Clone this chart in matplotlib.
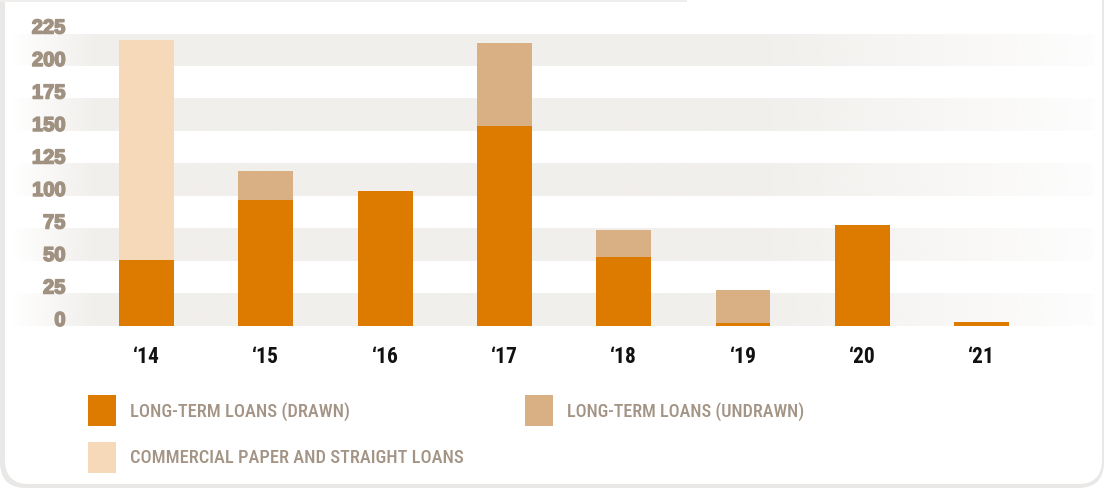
import numpy as np
import matplotlib
matplotlib.use('Agg')
import matplotlib.pyplot as plt
from matplotlib import font_manager, patheffects
from matplotlib.patches import FancyBboxPatch, Rectangle
from matplotlib.transforms import IdentityTransform

# data
years = ['\u201814', '\u201815', '\u201816', '\u201817', '\u201818', '\u201819', '\u201820', '\u201821']
drawn = [51, 97, 104, 154, 53, 2, 78, 3]
undrawn = [0, 22, 0, 64, 21, 26, 0, 0]
cpaper = [169, 0, 0, 0, 0, 0, 0, 0]
yticks = [0, 25, 50, 75, 100, 125, 150, 175, 200, 225]
labels = ['LONG-TERM LOANS (DRAWN)', 'LONG-TERM LOANS (UNDRAWN)',
          'COMMERCIAL PAPER AND STRAIGHT LOANS']

c_drawn = '#dd7b00'
c_undrawn = '#d9af84'
c_cp = '#f6d9b8'
c_text = '#a39485'

# pick a narrow face if one is installed
names = {f.name for f in font_manager.fontManager.ttflist}
narrow = {'family': ['Liberation Sans', 'DejaVu Sans'], 'stretch': 'normal'}
for cand in ['Liberation Sans Narrow', 'Arial Narrow', 'Roboto Condensed', 'Open Sans Condensed']:
    if cand in names:
        narrow = {'family': [cand, 'DejaVu Sans'], 'stretch': 'normal'}
        break
else:
    cond = [f for f in font_manager.fontManager.ttflist
            if f.name in ('Liberation Sans', 'Roboto', 'Open Sans', 'DejaVu Sans')
            and str(f.stretch) in ('condensed', 'semi-condensed', '500', '600', '625')]
    if cond:
        narrow = {'family': [cond[0].name, 'DejaVu Sans'], 'stretch': 'condensed'}
wide = 'Liberation Sans' if 'Liberation Sans' in names else 'DejaVu Sans'

W, H = 1104, 489
fig = plt.figure(figsize=(W / 100, H / 100), dpi=100)
fig.patch.set_facecolor('white')

# card with soft shadow
ident = IdentityTransform()
fig.patches.append(FancyBboxPatch((0, 0), W, H + 40, boxstyle='round,pad=0,rounding_size=26',
                                  fc='#e9e8e6', ec='none', transform=ident, figure=fig, zorder=-3))
fig.patches.append(FancyBboxPatch((5, 4), W - 7, H + 40, boxstyle='round,pad=0,rounding_size=24',
                                  fc='white', ec='none', transform=ident, figure=fig, zorder=-2))
fig.patches.append(Rectangle((0, H - 3), 687, 3, fc='#efeeec', ec='none',
                             transform=ident, figure=fig, zorder=-1))

# axes placed so that bars land where they are in the reference
ax = fig.add_axes([10 / W, 162 / H, 1085 / W, 292.5 / H])
ax.set_facecolor('none')
x0 = (10 - 146.5) / 119.3
x1 = (1095 - 146.5) / 119.3

# fading grey bands
px = np.linspace(10, 1095, 400)
alpha = np.interp(px, [10, 95, 750, 1095], [0.0, 1.0, 1.0, 0.12])
grad = np.zeros((1, len(px), 4))
grad[..., :3] = matplotlib.colors.to_rgb('#f1efec')
grad[..., 3] = alpha
for lo in range(0, 225, 50):
    ax.imshow(grad, extent=[x0, x1, lo, lo + 25], aspect='auto', zorder=0, interpolation='bilinear')

x = np.arange(len(years))
w = 0.46
ax.bar(x, drawn, w, color=c_drawn, linewidth=0, zorder=2)
ax.bar(x, undrawn, w, bottom=drawn, color=c_undrawn, linewidth=0, zorder=2)
ax.bar(x, cpaper, w, bottom=drawn, color=c_cp, linewidth=0, zorder=2)

ax.set_xlim(x0, x1)
ax.set_ylim(0, 225)
for s in ax.spines.values():
    s.set_visible(False)

# y labels sit inside the axes, right edge at ~66 px; a thin stroke makes them heavier
ax.set_yticks([])
ytrans = ax.get_yaxis_transform()
heavy = [patheffects.withStroke(linewidth=1.1, foreground='#a09181')]
for t in yticks:
    ax.text((65.5 - 10) / 1085, t, str(t), transform=ytrans, ha='right', va='baseline',
            color='#a09181', fontsize=14.5, fontweight='bold', fontstretch='normal',
            family=[wide, 'DejaVu Sans'], zorder=3, path_effects=heavy)

ax.set_xticks(x)
ax.set_xticklabels(years, fontsize=15.5, fontweight='bold', color='#111111', **narrow)
ax.tick_params(axis='x', length=0, pad=14)

# legend drawn by hand
legend_items = [(88, 396, c_drawn, labels[0]), (525, 396, c_undrawn, labels[1]),
                (88, 443, c_cp, labels[2])]
fig.canvas.draw()
rend = fig.canvas.get_renderer()
for lx, ly, col, txt in legend_items:
    fig.patches.append(Rectangle((lx, H - ly - 31), 28, 31, fc=col, ec='none',
                                 transform=ident, figure=fig))
    t = fig.text((lx + 42) / W, (H - ly - 15.5) / H, txt, color=c_text, fontsize=13,
                 fontweight='medium', va='center', ha='left', **narrow)
    # match the reference width (about 9.45 px per character)
    wpx = t.get_window_extent(rend).width
    t.set_fontsize(13 * 9.45 * len(txt) / wpx)

fig.savefig('out.png', dpi=100)
